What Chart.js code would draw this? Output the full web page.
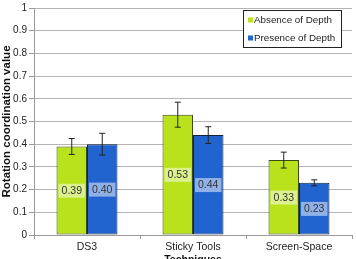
<!DOCTYPE html>
<html>
<head>
<meta charset="utf-8">
<script src="https://cdn.jsdelivr.net/npm/chart.js@4.4.0/dist/chart.umd.min.js"></script>
<style>
  html, body { margin: 0; padding: 0; background: #fff; }
  #wrap { width: 356px; height: 259px; overflow: hidden; position: relative; }
  #box { width: 356px; height: 266px; }
</style>
</head>
<body>
<div id="wrap"><div id="box"><canvas id="myChart"></canvas></div></div>
<script>
// chart data
const categories = ["DS3", "Sticky Tools", "Screen-Space"];
const seriesNames = ["Absence of Depth", "Presence of Depth"];
const absenceValues = [0.39, 0.53, 0.33];
const presenceValues = [0.40, 0.44, 0.23];
const absenceErrors = [0.035, 0.055, 0.035];
const presenceErrors = [0.048, 0.037, 0.013];
const yTicks = [0, 0.1, 0.2, 0.3, 0.4, 0.5, 0.6, 0.7, 0.8, 0.9, 1];

const errors = [absenceErrors, presenceErrors];

// draws error bars and value boxes from the scales
const barExtras = {
  id: "barExtras",
  afterDatasetsDraw(chart) {
    const ctx = chart.ctx;
    const y = chart.scales.y;
    chart.data.datasets.forEach((ds, i) => {
      const meta = chart.getDatasetMeta(i);
      meta.data.forEach((bar, j) => {
        const v = ds.data[j];
        const e = errors[i][j];
        const top = y.getPixelForValue(v + e);
        const bot = y.getPixelForValue(v - e);
        ctx.save();
        ctx.strokeStyle = "#222";
        ctx.lineWidth = 1;
        ctx.beginPath();
        ctx.moveTo(bar.x, top); ctx.lineTo(bar.x, bot);
        ctx.moveTo(bar.x - 3, top); ctx.lineTo(bar.x + 3, top);
        ctx.moveTo(bar.x - 3, bot); ctx.lineTo(bar.x + 3, bot);
        ctx.stroke();

        // label box
        const label = v.toFixed(2);
        ctx.font = "10.5px 'Liberation Sans', Arial, sans-serif";
        const w = ctx.measureText(label).width + 6;
        const h = 14;
        const cy = (y.getPixelForValue(v) + y.getPixelForValue(0)) / 2;
        ctx.fillStyle = "rgba(255,255,255,0.5)";
        ctx.fillRect(bar.x - w / 2, cy - h / 2, w, h);
        ctx.fillStyle = "#333";
        ctx.textAlign = "center";
        ctx.textBaseline = "middle";
        ctx.fillText(label, bar.x, cy + 0.5);
        ctx.restore();
      });
    });
  }
};

// x-axis ticks between categories
const catTicks = {
  id: "catTicks",
  afterDraw(chart) {
    const ctx = chart.ctx;
    const x = chart.scales.x;
    const area = chart.chartArea;
    ctx.save();
    ctx.strokeStyle = "#999";
    ctx.lineWidth = 1;
    ctx.beginPath();
    for (let i = 0; i <= categories.length; i++) {
      const px = Math.round(x.left + (x.width / categories.length) * i) + 0.5;
      ctx.moveTo(px, area.bottom);
      ctx.lineTo(px, area.bottom + 4);
    }
    ctx.stroke();
    ctx.restore();
  }
};

const ctx = document.getElementById("myChart").getContext("2d");
new Chart(ctx, {
  type: "bar",
  data: {
    labels: categories,
    datasets: [
      {
        label: seriesNames[0],
        data: absenceValues,
        backgroundColor: "#b9e21c",
        borderColor: "#3a4a10",
        borderWidth: 1,
        borderSkipped: false,
      },
      {
        label: seriesNames[1],
        data: presenceValues,
        backgroundColor: "#2163cf",
        borderColor: "#10243f",
        borderWidth: 1,
        borderSkipped: false,
      },
    ],
  },
  options: {
    responsive: true,
    maintainAspectRatio: false,
    animation: false,
    layout: { padding: { top: 5, right: 4, left: 0, bottom: 0 } },
    datasets: { bar: { categoryPercentage: 0.575, barPercentage: 1.0 } },
    plugins: {
      legend: { display: false },
      tooltip: { enabled: false },
    },
    scales: {
      x: {
        grid: { display: false, drawTicks: false },
        border: { color: "#999" },
        afterFit: (scale) => { scale.height = 31; },
        ticks: {
          color: "#222",
          font: { family: "'Liberation Sans', Arial, sans-serif", size: 10.5 },
          padding: 6,
        },
        title: {
          display: true,
          text: "Techniques",
          color: "#111",
          font: { family: "'Liberation Sans', Arial, sans-serif", size: 10.5, weight: "bold" },
          padding: { top: 0, bottom: 0 },
        },
      },
      y: {
        min: 0,
        max: 1,
        afterBuildTicks: (scale) => { scale.ticks = yTicks.map((v) => ({ value: v })); },
        afterFit: (scale) => { scale.width = 34; },
        grid: { color: "#b4b4b4", tickLength: 5, tickColor: "#999" },
        border: { color: "#999" },
        ticks: {
          color: "#222",
          font: { family: "'Liberation Sans', Arial, sans-serif", size: 10 },
          padding: 2,
          callback: (v) => String(v),
        },
        title: {
          display: true,
          text: "Rotation coordination value",
          color: "#111",
          font: { family: "'Liberation Sans', Arial, sans-serif", size: 11.5, weight: "bold" },
          padding: { top: 0, bottom: 0 },
        },
      },
    },
  },
  plugins: [barExtras, catTicks, {
    id: "legendBox",
    afterDraw(chart) {
      const c = chart.ctx;
      c.save();
      c.strokeStyle = "#222";
      c.lineWidth = 1;
      c.fillStyle = "#fff";
      c.fillRect(243.5, 10.5, 98, 37);
      c.strokeRect(243.5, 10.5, 98, 37);
      const colors = ["#b9e21c", "#2163cf"];
      c.font = "9.8px 'Liberation Sans', Arial, sans-serif";
      c.textBaseline = "middle";
      seriesNames.forEach((name, i) => {
        const yy = 20 + i * 18;
        c.fillStyle = colors[i];
        c.fillRect(248, yy - 2.5, 5, 5);
        c.fillStyle = "#222";
        c.fillText(name, 254, yy);
      });
      c.restore();
    }
  }],
});
</script>
</body>
</html>
